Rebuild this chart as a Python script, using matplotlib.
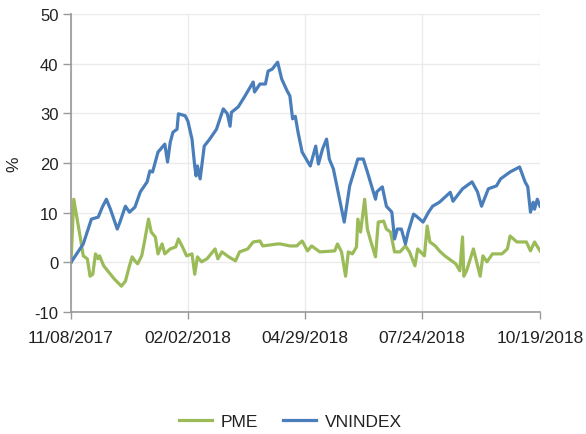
import matplotlib
matplotlib.use("Agg")
import matplotlib.pyplot as plt
import pandas as pd

start = pd.Timestamp("2017-11-08")
end = pd.Timestamp("2018-10-19")
tick_labels = ["11/08/2017", "02/02/2018", "04/29/2018", "07/24/2018", "10/19/2018"]

# days since 11/08/2017, % change
vn_days = [0, 9, 15, 20, 23, 26, 29, 34, 36, 40, 43, 47, 51, 56, 58, 60, 64, 69, 71, 73,
           75, 78, 79, 84, 86, 89, 91, 92, 93, 95, 98, 102, 107, 112, 115, 117, 118, 123,
           128, 134, 135, 139, 143, 145, 148, 152, 155, 159, 161, 163, 165, 167, 170, 176,
           180, 182, 185, 188, 190, 193, 196, 201, 205, 211, 215, 218, 224, 225, 229, 232,
           236, 238, 240, 243, 246, 248, 252, 254, 259, 263, 266, 271, 279, 281, 288, 295,
           299, 302, 307, 313, 316, 323, 330, 334, 336, 338, 340, 341, 343, 345]
vn_vals = [0, 3.7, 8.7, 9.1, 11.1, 12.7, 10.7, 6.7, 8.1, 11.3, 10.1, 11.1, 14.2, 16.2, 18.4,
           18.2, 22.2, 23.8, 20.2, 24.2, 26.2, 26.8, 29.9, 29.5, 28.4, 24.8, 19.4, 17.4, 19.4,
           16.8, 23.4, 24.8, 26.8, 30.9, 29.9, 27.4, 30.2, 31.3, 33.5, 36.3, 34.3, 35.9, 35.9,
           38.5, 38.9, 40.3, 36.9, 34.5, 33.5, 28.9, 29.4, 26.2, 22.2, 19.4, 23.4, 19.8, 22.8,
           24.8, 20.8, 18.8, 14.8, 8.1, 15.4, 20.8, 20.8, 18.2, 12.7, 14.2, 15.2, 11.3, 10.1,
           4.7, 6.7, 6.7, 3.7, 6.1, 9.7, 9.3, 8.1, 10.1, 11.3, 12.1, 14.1, 12.3, 14.8, 16.2,
           14.2, 11.3, 14.8, 15.4, 16.8, 18.2, 19.2, 16.2, 15.2, 10.1, 12.1, 10.7, 12.7, 11.3]

pme_days = [0, 2, 7, 9, 12, 14, 16, 18, 20, 21, 24, 29, 32, 37, 40, 43, 45, 47, 49, 52,
            54, 57, 59, 62, 64, 67, 69, 73, 77, 79, 82, 85, 89, 91, 93, 96, 100, 106, 108,
            111, 116, 121, 124, 130, 134, 139, 141, 152, 154, 161, 166, 170, 174, 177, 183,
            194, 196, 199, 202, 204, 207, 210, 211, 213, 216, 218, 220, 224, 226, 230, 232,
            235, 238, 242, 246, 249, 253, 255, 260, 262, 264, 268, 271, 275, 283, 286, 288,
            289, 291, 296, 301, 303, 306, 310, 317, 321, 323, 328, 335, 338, 341, 345]
pme_vals = [0, 12.7, 4.7, 1.3, 0.7, -2.8, -2.4, 1.7, 0.7, 1.3, -0.7, -2.4, -3.4, -4.8, -3.8,
            -0.7, 1.1, 0.3, -0.3, 1.3, 4.1, 8.7, 6.1, 5.1, 1.7, 3.7, 1.7, 2.7, 3.1, 4.7, 3.1,
            1.3, 1.7, -2.4, 1.1, 0.1, 0.7, 2.7, 0.7, 2.1, 1.1, 0.3, 2.1, 2.7, 4.1, 4.3, 3.3,
            3.7, 3.7, 3.3, 3.3, 4.3, 2.3, 3.3, 2.1, 2.3, 3.7, 2.1, -2.8, 2.1, 1.7, 3.1, 8.7,
            6.1, 12.7, 6.7, 4.7, 1.1, 8.1, 8.3, 6.7, 6.1, 2.1, 2.1, 3.3, 2.1, -0.7, 2.7, 1.3,
            7.3, 4.1, 3.3, 2.3, 1.3, -0.3, -1.7, 5.1, -2.8, -1.7, 2.7, -2.8, 1.3, 0.1, 1.7,
            1.7, 2.7, 5.3, 4.1, 4.1, 2.3, 4.1, 2.3]

vn_dates = start + pd.to_timedelta(vn_days, unit="D")
pme_dates = start + pd.to_timedelta(pme_days, unit="D")
tick_dates = pd.to_datetime(tick_labels, format="%m/%d/%Y")

plt.rcParams["font.family"] = ["Liberation Sans", "DejaVu Sans"]
plt.rcParams["axes.unicode_minus"] = False
text_color = "#222222"
fs = 12.5

fig = plt.figure(figsize=(5.86, 4.35), dpi=100)
ax = fig.add_axes([0.1212, 0.2805, 0.8003, 0.685])

ax.plot(pme_dates, pme_vals, color="#9BBB59", lw=2.3, label="PME")
ax.plot(vn_dates, vn_vals, color="#4A7EBB", lw=2.3, label="VNINDEX")

ax.set_xlim(start, end)
ax.set_ylim(-10, 50)
ax.set_yticks(range(-10, 51, 10))
ax.set_xticks(tick_dates)
ax.set_xticklabels(tick_labels)

ax.grid(True, color="#ebebeb", lw=1)
ax.set_axisbelow(True)
for s in ["top", "right"]:
    ax.spines[s].set_visible(False)
for s in ["left", "bottom"]:
    ax.spines[s].set_color("#999999")
    ax.spines[s].set_linewidth(1.2)

ax.tick_params(axis="both", colors="#999999", labelcolor=text_color, labelsize=fs, width=1)
ax.tick_params(axis="y", length=6, pad=3, labelsize=12)
ax.tick_params(axis="x", length=5, pad=8)

ax.set_ylabel("%", fontsize=fs, color=text_color)
ax.yaxis.set_label_coords(-0.105, 0.5)

fig.legend(loc="center", bbox_to_anchor=(0.495, 0.028), ncol=2, frameon=False,
           fontsize=fs, handlelength=1.9, handletextpad=0.5, columnspacing=1.45,
           labelcolor=text_color)

fig.savefig("out.png", dpi=100)
